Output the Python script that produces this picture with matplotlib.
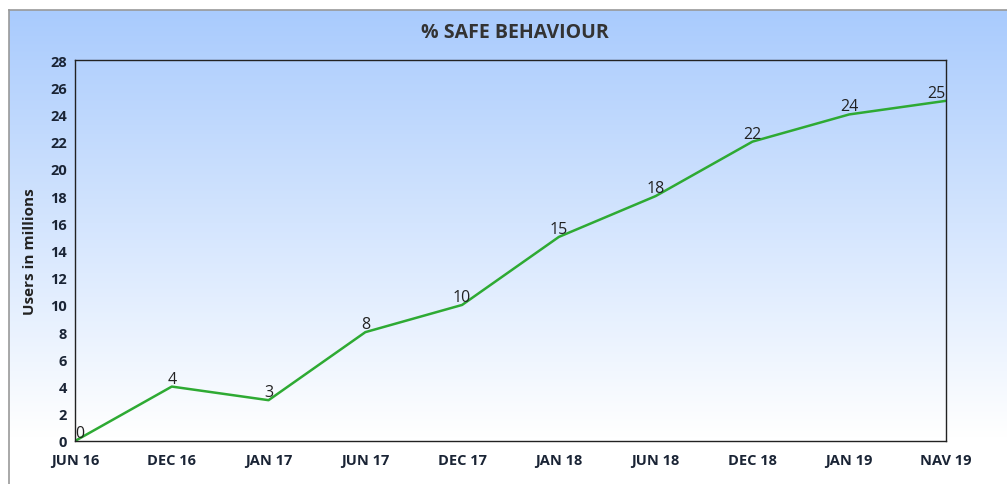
import numpy as np
import matplotlib.pyplot as plt
from matplotlib.colors import LinearSegmentedColormap

plt.rcParams['font.family'] = ['Open Sans', 'DejaVu Sans']

months = ['JUN 16', 'DEC 16', 'JAN 17', 'JUN 17', 'DEC 17',
          'JAN 18', 'JUN 18', 'DEC 18', 'JAN 19', 'NAV 19']
users = [0, 4, 3, 8, 10, 15, 18, 22, 24, 25]

W, H = 1007, 485
fig = plt.figure(figsize=(W / 100, H / 100), dpi=100)
fig.patch.set_facecolor('white')

# gradient panel behind the chart
bg = fig.add_axes([9 / W, 0, 1 - 9 / W, (H - 11) / H])
cmap = LinearSegmentedColormap.from_list(
    'bgrad', [(0, '#ffffff'), (0.1, '#ffffff'), (1, '#a9cbfd')])
grad = np.linspace(0, 1, 256).reshape(-1, 1)
bg.imshow(grad, aspect='auto', cmap=cmap, origin='lower', extent=[0, 1, 0, 1])
bg.set_xticks([])
bg.set_yticks([])
for s in ['right', 'bottom']:
    bg.spines[s].set_visible(False)
for s in ['left', 'top']:
    bg.spines[s].set_color('#999999')
    bg.spines[s].set_linewidth(1.2)

ax = fig.add_axes([75 / W, 1 - 442 / H, (946 - 75) / W, (442 - 61) / H])
ax.set_facecolor('none')
x = np.arange(len(months))
ax.plot(x, users, color='#2eaa33', lw=1.8)

for i, v in enumerate(users):
    ha = 'center'
    if i == 0:
        ha = 'left'
    elif i == len(users) - 1:
        ha = 'right'
    ax.annotate(str(v), (i, v), xytext=(0, 0), textcoords='offset points',
                ha=ha, va='bottom', fontsize=11.5, color='#222222')

ax.set_xlim(0, len(months) - 1)
ax.set_ylim(0, 28)
ax.set_yticks(range(0, 29, 2))
ax.set_xticks(x)
ax.set_xticklabels(months)
ax.tick_params(length=0, labelsize=10.5, colors='#1a2435')
ax.tick_params(axis='x', pad=9)
ax.tick_params(axis='y', pad=6)
for lab in ax.get_xticklabels() + ax.get_yticklabels():
    lab.set_fontweight('bold')
for s in ax.spines.values():
    s.set_color('#222222')
    s.set_linewidth(1)

ax.set_ylabel('Users in millions', fontsize=11, fontweight='bold', color='#222222')
ax.yaxis.set_label_coords(-38 / (946 - 75), 0.5)

fig.text(515 / W, 1 - 33 / H, '% SAFE BEHAVIOUR', ha='center', va='center',
         fontsize=14, fontweight='bold', color='#333333')

fig.savefig('out.png', dpi=100)
